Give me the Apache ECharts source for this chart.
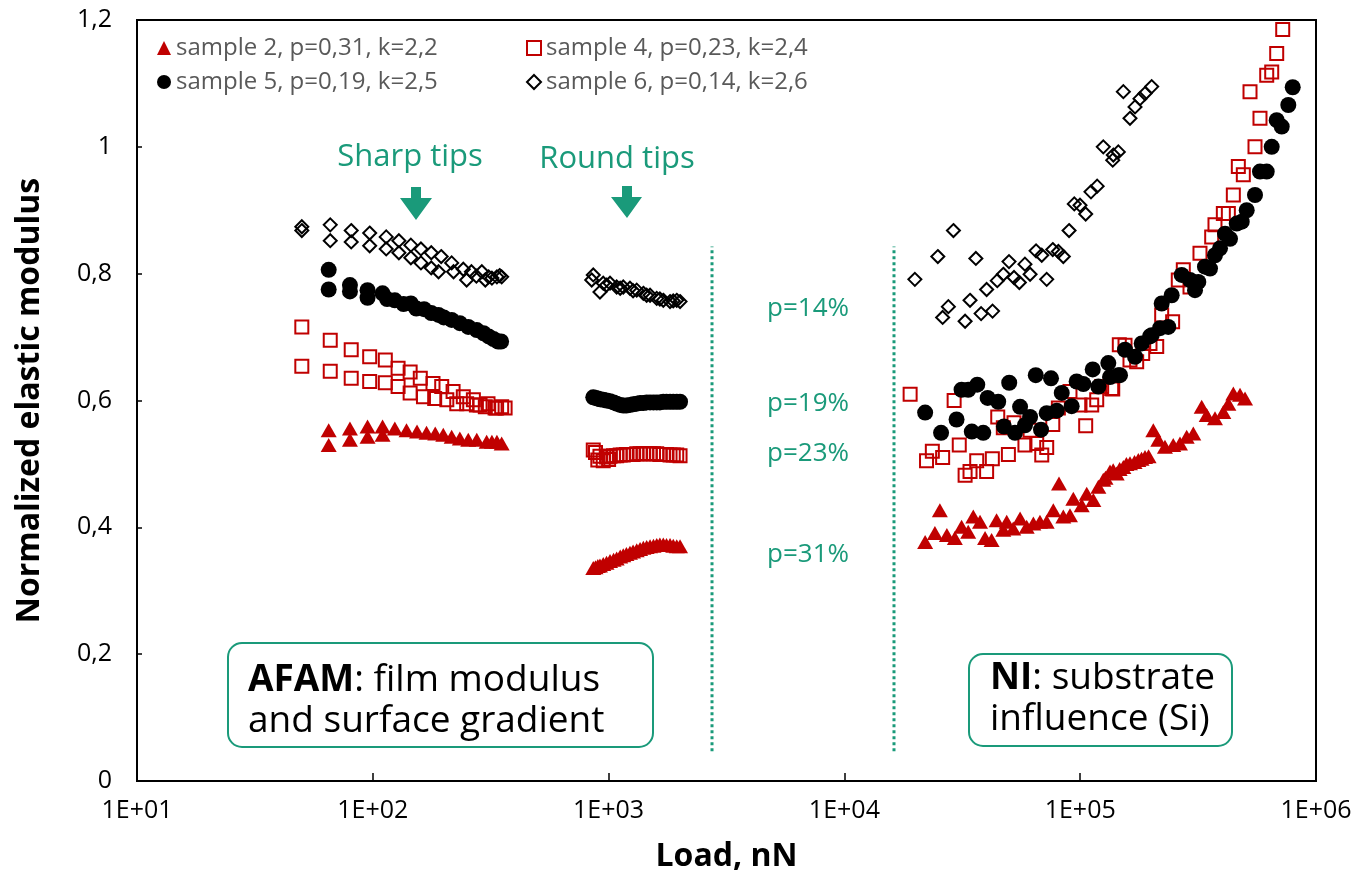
<!DOCTYPE html>
<html>
<head>
<meta charset="utf-8">
<script src="https://cdn.jsdelivr.net/npm/echarts@6/dist/echarts.min.js"></script>
<style>
html,body{margin:0;padding:0;background:#fff;}
#chart{width:1355px;height:874px;}
</style>
</head>
<body>
<div id="chart"></div>
<script>
// ---------- DATA ----------
const seriesNames = ['sample 2, p=0,31, k=2,2', 'sample 4, p=0,23, k=2,4', 'sample 5, p=0,19, k=2,5', 'sample 6, p=0,14, k=2,6'];
const xTicks = [10, 100, 1000, 10000, 100000, 1000000];
const yTicks = [0, 0.2, 0.4, 0.6, 0.8, 1.0, 1.2];

// sample 2 (triangles)
const s2Sharp = [[65,0.553],[65,0.530],[80,0.556],[80,0.538],[95,0.559],[95,0.543],[110,0.559],[110,0.546],[124,0.556],[139,0.553],[154,0.551],[169,0.549],[184,0.548],[199,0.546],[216,0.543],[234,0.540],[254,0.538],[276,0.538],[304,0.535],[320,0.535],[336,0.535],[352,0.532]];
const s2Round = [[861,0.336],[880,0.337],[900,0.339],[919,0.340],[949,0.342],[980,0.344],[1014,0.347],[1050,0.349],[1082,0.351],[1120,0.354],[1154,0.356],[1190,0.358],[1232,0.360],[1270,0.362],[1316,0.364],[1360,0.366],[1404,0.368],[1450,0.369],[1499,0.370],[1550,0.371],[1600,0.372],[1650,0.373],[1706,0.373],[1760,0.372],[1822,0.372],[1880,0.371],[1945,0.370],[2009,0.370]];
const s2NI = [[22000,0.377],[25400,0.427],[24200,0.391],[27200,0.388],[29400,0.383],[31400,0.401],[33500,0.393],[35200,0.417],[37600,0.409],[39500,0.383],[42100,0.380],[44200,0.411],[47200,0.396],[48800,0.409],[52000,0.398],[55600,0.414],[59300,0.401],[63300,0.406],[67500,0.409],[72100,0.409],[76900,0.427],[81300,0.469],[84800,0.417],[90500,0.419],[93500,0.445],[101500,0.435],[106600,0.453],[113700,0.443],[119400,0.464],[125300,0.475],[128000,0.478],[133800,0.488],[138000,0.490],[142800,0.485],[147000,0.492],[152400,0.495],[157000,0.500],[162600,0.501],[170000,0.503],[176400,0.506],[182000,0.508],[188300,0.511],[195000,0.512],[204200,0.553],[214400,0.538],[228800,0.527],[248100,0.530],[265000,0.532],[282900,0.543],[301800,0.548],[327500,0.590],[343900,0.577],[372900,0.572],[404600,0.582],[424900,0.595],[446100,0.611],[476200,0.609],[500000,0.603]];

// sample 4 (open squares)
const s4Sharp = [[50,0.716],[66,0.695],[81,0.680],[97,0.669],[113,0.664],[128,0.651],[144,0.645],[159,0.635],[180,0.627],[196,0.622],[219,0.614],[242,0.606],[267,0.601],[285,0.593],[308,0.595],[330,0.588],[352,0.590],[364,0.588],
  [50,0.654],[66,0.646],[81,0.635],[97,0.630],[113,0.628],[128,0.622],[144,0.612],[164,0.606],[183,0.603],[206,0.601],[227,0.595],[250,0.595],[275,0.593],[300,0.590],[335,0.588]];
const s4Round = [[861,0.522],[880,0.518],[900,0.506],[919,0.512],[949,0.505],[980,0.511],[1000,0.507],[1014,0.512],[1050,0.513],[1082,0.513],[1120,0.514],[1154,0.514],[1190,0.515],[1232,0.515],[1270,0.515],[1316,0.516],[1360,0.516],[1404,0.516],[1450,0.516],[1499,0.516],[1550,0.516],[1600,0.516],[1650,0.515],[1706,0.515],[1760,0.515],[1822,0.514],[1880,0.514],[1945,0.514],[2009,0.513]];
const s4NI = [[19000,0.610],[29200,0.600],[23600,0.520],[22300,0.505],[26100,0.510],[30700,0.530],[32500,0.482],[34100,0.488],[36400,0.505],[40100,0.488],[42400,0.508],[44700,0.574],[47200,0.557],[49600,0.515],[52400,0.565],[58300,0.530],[61300,0.553],[65400,0.532],[68700,0.514],[72100,0.526],[76500,0.562],[80800,0.588],[90500,0.614],[99800,0.593],[105500,0.560],[111900,0.593],[117500,0.601],[123300,0.622],[136000,0.619],[137400,0.618],[146500,0.688],[154900,0.687],[162600,0.664],[173600,0.661],[184100,0.674],[197700,0.690],[211100,0.685],[221600,0.735],[246600,0.724],[260600,0.790],[273700,0.806],[292200,0.779],[322100,0.832],[361100,0.858],[372900,0.877],[404600,0.895],[424900,0.895],[446100,0.924],[468400,0.969],[491800,0.956],[525000,1.087],[551200,1.000],[578700,1.045],[618000,1.113],[648900,1.118],[681300,1.147],[722500,1.185]];

// sample 5 (filled circles)
const s5Sharp = [[65,0.806],[65,0.775],[80,0.782],[80,0.772],[95,0.774],[95,0.762],[110,0.769],[115,0.760],[124,0.758],[135,0.752],[145,0.753],[153,0.745],[165,0.744],[177,0.738],[190,0.735],[200,0.731],[216,0.727],[234,0.722],[254,0.716],[276,0.711],[295,0.706],[310,0.701],[325,0.697],[340,0.693],[350,0.693]];
const s5Round = [[861,0.605],[880,0.604],[900,0.603],[919,0.602],[949,0.601],[980,0.600],[1014,0.599],[1050,0.597],[1082,0.595],[1120,0.593],[1154,0.592],[1190,0.592],[1232,0.593],[1270,0.594],[1316,0.595],[1360,0.596],[1404,0.596],[1450,0.597],[1499,0.597],[1550,0.597],[1600,0.597],[1650,0.597],[1706,0.598],[1760,0.598],[1822,0.598],[1880,0.598],[1945,0.598],[2009,0.598]];
const s5NI = [[22000,0.581],[25700,0.549],[29900,0.570],[31400,0.617],[33500,0.617],[36600,0.625],[34700,0.551],[38800,0.549],[40500,0.604],[44900,0.598],[50000,0.628],[47500,0.559],[52900,0.549],[55600,0.590],[58300,0.561],[61300,0.574],[64800,0.640],[68200,0.554],[72100,0.580],[75200,0.635],[79500,0.584],[83500,0.612],[92000,0.591],[96600,0.630],[103100,0.626],[113000,0.649],[119400,0.622],[131600,0.659],[133800,0.637],[145100,0.640],[147500,0.640],[154900,0.680],[170800,0.669],[182300,0.690],[197700,0.701],[201000,0.703],[218000,0.714],[236300,0.716],[221600,0.753],[244300,0.766],[269400,0.798],[292200,0.790],[306800,0.774],[316900,0.787],[338200,0.811],[355200,0.808],[372900,0.829],[391700,0.840],[411400,0.863],[431900,0.855],[461200,0.879],[484200,0.882],[508300,0.900],[551200,0.924],[578700,0.961],[618000,0.961],[648900,1.000],[681300,1.042],[715500,1.032],[763100,1.066],[796600,1.094]];

// sample 6 (open diamonds)
const s6Sharp = [[50,0.874],[66,0.877],[81,0.868],[97,0.864],[114,0.858],[129,0.852],[145,0.845],[160,0.839],[177,0.833],[195,0.827],[216,0.817],[242,0.807],[262,0.803],[290,0.803],[310,0.795],[336,0.795],[352,0.795],
  [50,0.868],[66,0.852],[81,0.850],[97,0.844],[114,0.839],[129,0.833],[145,0.825],[160,0.817],[177,0.809],[190,0.803],[220,0.803],[250,0.790],[275,0.796],[300,0.790],[320,0.793],[345,0.797]];
const s6Round = [[861,0.798],[848,0.790],[919,0.771],[949,0.785],[980,0.782],[1014,0.785],[1082,0.779],[1120,0.777],[1154,0.779],[1232,0.777],[1270,0.773],[1316,0.774],[1404,0.769],[1450,0.766],[1499,0.766],[1600,0.761],[1650,0.760],[1706,0.758],[1822,0.756],[1880,0.757],[1945,0.758],[2009,0.756]];
const s6NI = [[19900,0.791],[24900,0.827],[29000,0.868],[26100,0.731],[27600,0.748],[32500,0.725],[34100,0.758],[36100,0.824],[38000,0.737],[40100,0.775],[42500,0.741],[44500,0.789],[47200,0.799],[49900,0.819],[52400,0.794],[55200,0.786],[58300,0.815],[61300,0.799],[65000,0.836],[68700,0.829],[72100,0.791],[76500,0.838],[80800,0.835],[84800,0.827],[89700,0.868],[94400,0.910],[99800,0.908],[105500,0.894],[111100,0.929],[118000,0.938],[125300,1.000],[137400,0.979],[138200,0.987],[145100,0.992],[152400,1.087],[162600,1.045],[170800,1.063],[179300,1.076],[188300,1.084],[201000,1.095]];

// region dividers (load values) and their vertical extent
const dividerLoads = [2745, 16230];
const dividerRange = [0.047, 0.843];

// annotation texts
const pLabels = ['p=14%', 'p=19%', 'p=23%', 'p=31%'];

// ---------- CHART ----------
const TEAL = '#1a9a7a';
const RED = '#c00000';
const FONT = '"Open Sans", "Noto Sans", sans-serif';

const chart = echarts.init(document.getElementById('chart'), null, {renderer: 'canvas'});

function dividerSeries(x) {
  return {
    type: 'line', data: [[x, dividerRange[0]], [x, dividerRange[1]]],
    symbol: 'none', silent: true, z: 1,
    lineStyle: {color: TEAL, width: 3, type: [3, 3]}
  };
}

const legendText = {fontSize: 24, color: '#595959', fontFamily: FONT, lineHeight: 26};

const option = {
  animation: false,
  backgroundColor: '#fff',
  grid: {left: 137, right: 39, top: 20, bottom: 93, show: true, borderColor: '#000', borderWidth: 2,
    backgroundColor: 'transparent', containLabel: false, outerBoundsMode: 'none'},
  legend: [
    {data: [seriesNames[0], seriesNames[2]], orient: 'vertical', left: 152, top: 30, itemGap: 8, itemWidth: 14, itemHeight: 14, textStyle: legendText, selectedMode: false},
    {data: [seriesNames[1], seriesNames[3]], orient: 'vertical', left: 521, top: 30, itemGap: 8, itemWidth: 14, itemHeight: 14, textStyle: legendText, selectedMode: false}
  ],
  xAxis: {
    type: 'log', logBase: 10, min: xTicks[0], max: xTicks[xTicks.length - 1],
    name: 'Load, nN', nameLocation: 'middle', nameGap: 60,
    nameTextStyle: {fontSize: 32, fontWeight: 'bold', color: '#000', fontFamily: FONT},
    axisLine: {lineStyle: {color: '#000', width: 2}},
    axisTick: {inside: true, length: 8, lineStyle: {color: '#000', width: 1.5}},
    minorTick: {show: false},
    splitLine: {show: false},
    axisLabel: {fontSize: 25, color: '#000', fontFamily: FONT, margin: 17,
      formatter: v => '1E+' + String(Math.round(Math.log10(v))).padStart(2, '0')}
  },
  yAxis: {
    type: 'value', min: yTicks[0], max: yTicks[yTicks.length - 1], interval: 0.2,
    name: 'Normalized elastic modulus', nameLocation: 'middle', nameGap: 91,
    nameTextStyle: {fontSize: 32, fontWeight: 'bold', color: '#000', fontFamily: FONT},
    axisLine: {show: true, lineStyle: {color: '#000', width: 2}},
    axisTick: {show: true, inside: true, length: 5, lineStyle: {color: '#000', width: 1.5}},
    splitLine: {show: false},
    axisLabel: {fontSize: 25, color: '#000', fontFamily: FONT, margin: 25,
      formatter: v => String(Math.round(v * 10) / 10).replace('.', ',')}
  },
  series: [
    {name: seriesNames[0], type: 'scatter', data: s2Sharp.concat(s2Round, s2NI), symbol: 'triangle', symbolSize: [16, 14],
      itemStyle: {color: RED, opacity: 1}, z: 2},
    {name: seriesNames[1], type: 'scatter', data: s4Sharp.concat(s4Round, s4NI), symbol: 'rect', symbolSize: 13,
      itemStyle: {color: 'rgba(255,255,255,0)', borderColor: RED, borderWidth: 2, opacity: 1}, z: 3},
    {name: seriesNames[2], type: 'scatter', data: s5Sharp.concat(s5Round, s5NI), symbol: 'circle', symbolSize: 16,
      itemStyle: {color: '#000', opacity: 1}, z: 4},
    {name: seriesNames[3], type: 'scatter', data: s6Sharp.concat(s6Round, s6NI), symbol: 'diamond', symbolSize: 13,
      itemStyle: {color: 'rgba(255,255,255,0)', borderColor: '#000', borderWidth: 2, opacity: 1}, z: 5},
    dividerSeries(dividerLoads[0]),
    dividerSeries(dividerLoads[1])
  ],
  graphic: [
    {type: 'text', x: 410, y: 157, style: {text: 'Sharp tips', fill: TEAL, font: '31px ' + FONT, align: 'center', verticalAlign: 'middle'}},
    {type: 'text', x: 617, y: 159, style: {text: 'Round tips', fill: TEAL, font: '31px ' + FONT, align: 'center', verticalAlign: 'middle'}},
    {type: 'polygon', shape: {points: [[411,187],[421,187],[421,198],[432,198],[416,220],[400,198],[411,198]]}, style: {fill: TEAL}},
    {type: 'polygon', shape: {points: [[622,186],[632,186],[632,197],[642,197],[627,218],[611,197],[622,197]]}, style: {fill: TEAL}},
    {type: 'text', x: 808, y: 309, style: {text: pLabels[0], fill: TEAL, font: '26px ' + FONT, align: 'center', verticalAlign: 'middle'}},
    {type: 'text', x: 808, y: 404, style: {text: pLabels[1], fill: TEAL, font: '26px ' + FONT, align: 'center', verticalAlign: 'middle'}},
    {type: 'text', x: 808, y: 454, style: {text: pLabels[2], fill: TEAL, font: '26px ' + FONT, align: 'center', verticalAlign: 'middle'}},
    {type: 'text', x: 808, y: 555, style: {text: pLabels[3], fill: TEAL, font: '26px ' + FONT, align: 'center', verticalAlign: 'middle'}},
    {type: 'rect', shape: {x: 228, y: 643, width: 425, height: 104, r: 14}, style: {fill: '#fff', stroke: TEAL, lineWidth: 2}, z: 10},
    {type: 'text', x: 248, y: 660, z: 11, style: {
      text: '{b|AFAM}{n|: film modulus}\n{n|and surface gradient}', align: 'left', verticalAlign: 'top',
      rich: {b: {fontSize: 37, fontWeight: 'bold', fontFamily: FONT, fill: '#000', lineHeight: 41},
             n: {fontSize: 37, fontFamily: FONT, fill: '#000', lineHeight: 41}}}},
    {type: 'rect', shape: {x: 969, y: 654, width: 263, height: 92, r: 14}, style: {fill: '#fff', stroke: TEAL, lineWidth: 2}, z: 10},
    {type: 'text', x: 990, y: 658, z: 11, style: {
      text: '{b|NI}{n|: substrate}\n{n|influence (Si)}', align: 'left', verticalAlign: 'top',
      rich: {b: {fontSize: 37, fontWeight: 'bold', fontFamily: FONT, fill: '#000', lineHeight: 41},
             n: {fontSize: 37, fontFamily: FONT, fill: '#000', lineHeight: 41}}}}
  ]
};
chart.setOption(option);
</script>
</body>
</html>
